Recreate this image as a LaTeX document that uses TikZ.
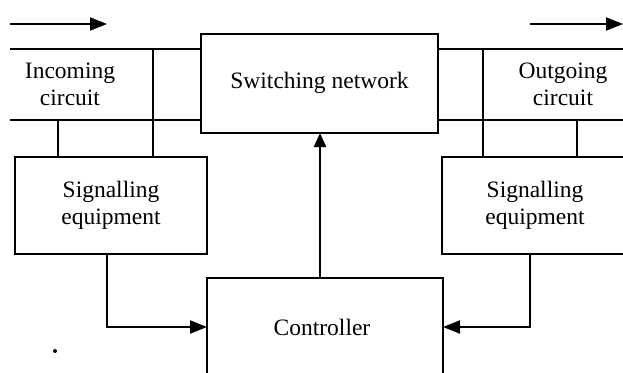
\documentclass[tikz,border=0pt]{standalone}
\usepackage{fontspec}
\setmainfont{Liberation Serif}
\usetikzlibrary{arrows.meta}
\begin{document}
\begin{tikzpicture}[x=1pt,y=-1pt,
  line width=2.2pt,
  lbl/.style={font=\fontsize{23.5}{27}\selectfont, align=center, inner sep=0pt},
  blk/.style={draw, line width=2.4pt},
  tip/.style={-{Triangle[length=17pt,width=13pt]}},
  tipup/.style={-{Triangle[length=14pt,width=12pt]}}]
\useasboundingbox (0,0) rectangle (623,372);

% switching network
\draw[blk] (201,34) rectangle (438,133);
\node[lbl] (sw) at (319.5,83) {Switching network};
\coordinate (swB) at (320,133);

% signalling equipment, left and right (right one runs off the edge)
\draw[blk] (15,157) rectangle (207,254);
\node[lbl] (sigL) at (111,205) {Signalling\\equipment};
\draw[blk] (628,157) -- (442,157) -- (442,254) -- (628,254);
\node[lbl] (sigR) at (535,205) {Signalling\\equipment};

% controller, open at the bottom
\draw[blk] (207,380) -- (207,278) -- (443,278) -- (443,380);
\node[lbl] (ctl) at (322,327) {Controller};

% incoming circuit bus
\draw (10,49) -- (201,49);
\draw (10,120) -- (201,120);
\draw (153,49) -- (153,157);
\draw (58,120) -- (58,157);
\node[lbl] (inc) at (70,84) {Incoming\\circuit};

% outgoing circuit bus
\draw (438,49) -- (623,49);
\draw (438,120) -- (623,120);
\draw (483,49) -- (483,157);
\draw (577,120) -- (577,157);
\node[lbl] (out) at (563,84) {Outgoing\\circuit};

% direction of traffic
\coordinate (a1) at (10,24);
\coordinate (a2) at (107,24);
\coordinate (b1) at (530,24);
\coordinate (b2) at (623,24);
\draw[tip] (a1) -- (a2);
\draw[tip] (b1) -- (b2);

% control paths
\coordinate (ctlT) at (320,278);
\coordinate (ctlL) at (207,327);
\coordinate (ctlR) at (443,327);
\coordinate (sigLB) at (107,254);
\coordinate (sigRB) at (530,254);
\draw[tipup] (ctlT) -- (swB);
\draw[tip] (sigLB) |- (ctlL);
\draw[tip] (sigRB) |- (ctlR);

% stray dot
\fill (55,351) circle (2pt);
\end{tikzpicture}
\end{document}
